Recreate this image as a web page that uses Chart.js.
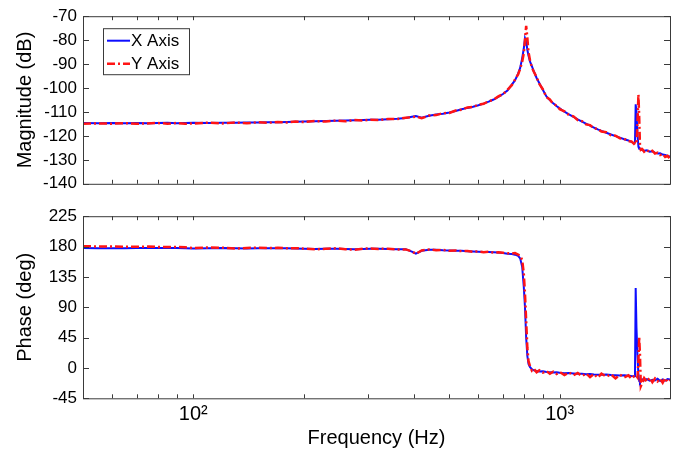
<!DOCTYPE html>
<html>
<head>
<meta charset="utf-8">
<script src="https://cdn.jsdelivr.net/npm/chart.js@4.4.0/dist/chart.umd.min.js"></script>
<style>
    html, body { margin: 0; padding: 0; background: #fff; }
    #wrap { position: relative; width: 681px; height: 452px; }
    #magBox { position: absolute; left: 0; top: 0; width: 681px; height: 200px; }
    #phaseBox { position: absolute; left: 0; top: 200px; width: 681px; height: 252px; }
</style>
</head>
<body>
<div id="wrap">
    <div id="magBox"><canvas id="magChart"></canvas></div>
    <div id="phaseBox"><canvas id="phaseChart"></canvas></div>
</div>
<script>
// frequency points (Hz)
const freqs = [
    50, 55, 60, 65, 70, 75, 80, 85, 90, 95,
    100, 110, 120, 130, 140, 150, 160, 170, 180, 190,
    200, 215, 230, 245, 260, 275, 290, 305, 320, 340,
    360, 380, 395, 405, 420, 440, 460, 480, 500, 520,
    540, 560, 580, 600, 620, 640, 660, 680, 700, 720,
    740, 755, 770, 780, 790, 798, 804, 810, 816, 822,
    830, 840, 850, 865, 880, 900, 920, 940, 960, 980,
    1000, 1030, 1060, 1090, 1120, 1150, 1180, 1210, 1240, 1270,
    1300, 1340, 1380, 1420, 1460, 1500, 1540, 1570, 1595, 1605,
    1612, 1620, 1630, 1640, 1648, 1656, 1665, 1680, 1700, 1730,
    1760, 1790, 1820, 1850, 1880, 1910, 1940, 1970, 2000
];

// magnitude (dB)
const magX = [
    -114.6, -114.7, -114.6, -114.7, -114.6, -114.7, -114.6, -114.5, -114.7, -114.6,
    -114.5, -114.6, -114.5, -114.5, -114.4, -114.4, -114.3, -114.3, -114.2, -114.1,
    -114.0, -113.9, -113.8, -113.7, -113.6, -113.5, -113.4, -113.3, -113.2, -113.0,
    -112.8, -112.5, -112.0, -111.7, -112.4, -111.6, -111.1, -110.7, -110.2, -109.6,
    -108.9, -108.3, -107.8, -107.2, -106.5, -105.7, -104.8, -103.7, -102.5, -101.0,
    -98.6, -96.8, -94.0, -91.6, -87.5, -83.5, -79.2, -80.5, -84.0, -86.5,
    -89.0, -91.0, -93.0, -95.8, -98.0, -100.8, -103.5, -105.0, -106.4, -107.5,
    -108.5, -109.9, -111.0, -112.0, -113.1, -114.0, -114.9, -115.7, -116.5, -117.3,
    -117.9, -118.7, -119.4, -120.1, -120.7, -121.4, -121.9, -122.5, -123.0, -122.8,
    -106.8, -110.0, -119.0, -124.5, -125.4, -125.2, -125.6, -125.9, -126.2, -126.0,
    -126.6, -126.4, -127.0, -127.3, -127.2, -127.8, -128.0, -128.4, -128.6
];
const magY = [
    -114.9, -114.8, -114.9, -114.7, -114.9, -114.8, -114.6, -114.9, -114.6, -114.9,
    -114.8, -114.5, -114.8, -114.4, -114.7, -114.3, -114.5, -114.2, -114.4, -114.0,
    -114.2, -113.8, -114.0, -113.6, -113.9, -113.4, -113.6, -113.2, -113.4, -112.9,
    -113.0, -112.4, -112.2, -111.9, -112.6, -111.5, -111.3, -110.5, -110.4, -109.4,
    -109.1, -108.1, -107.9, -107.0, -106.6, -105.5, -104.9, -103.5, -102.6, -100.8,
    -98.8, -96.5, -94.3, -92.0, -89.0, -85.5, -80.0, -74.0, -79.0, -85.0,
    -88.5, -91.5, -93.2, -95.5, -98.3, -100.6, -103.8, -104.8, -106.7, -107.3,
    -108.8, -109.7, -111.3, -111.8, -113.4, -113.8, -115.2, -115.5, -116.8, -117.1,
    -118.2, -118.5, -119.7, -119.9, -121.0, -121.2, -122.2, -122.3, -123.3, -123.0,
    -123.4, -123.0, -115.0, -102.7, -112.0, -124.0, -125.8, -125.5, -126.6, -125.8,
    -126.9, -126.2, -127.4, -127.0, -128.0, -127.5, -128.8, -128.3, -129.6
];

// phase (deg)
const phaseX = [
    177.9, 177.6, 177.4, 177.6, 177.8, 177.7, 177.9, 178.0, 177.8, 177.5,
    177.2, 177.6, 177.8, 177.5, 177.2, 177.6, 177.3, 177.5, 177.4, 177.1,
    176.7, 176.2, 176.6, 176.8, 176.3, 175.9, 176.4, 176.8, 176.9, 176.5,
    176.1, 175.9, 172.5, 169.5, 173.8, 175.4, 175.2, 174.4, 174.0, 173.6,
    173.7, 173.1, 172.7, 172.4, 172.1, 171.8, 171.4, 171.0, 170.4, 169.3,
    168.9, 168.0, 166.2, 162.5, 150.0, 120.0, 90.0, 45.0, 18.0, 6.0,
    1.0, -2.0, -3.5, -4.5, -5.2, -5.0, -6.0, -6.3, -6.8, -6.5,
    -7.2, -7.8, -7.6, -8.2, -8.7, -8.5, -9.2, -9.0, -9.6, -9.9,
    -10.1, -9.8, -10.6, -10.9, -11.2, -11.0, -11.6, -12.0, -12.2, -12.0,
    118.5, 60.0, 20.0, -10.0, -19.5, -21.0, -18.0, -17.0, -18.5, -16.5,
    -19.0, -17.5, -18.5, -16.0, -19.5, -17.0, -18.8, -16.5, -17.2
];
const phaseY = [
    180.4, 180.2, 180.0, 179.8, 179.6, 179.9, 179.5, 179.2, 179.4, 178.8,
    177.8, 178.6, 178.3, 177.0, 177.9, 178.4, 177.8, 178.1, 177.5, 177.6,
    176.9, 175.9, 176.8, 177.4, 176.0, 175.3, 176.9, 177.2, 176.4, 176.9,
    175.7, 175.8, 172.8, 169.2, 174.2, 175.7, 174.6, 175.0, 173.6, 174.1,
    173.2, 173.5, 172.3, 172.8, 171.6, 172.2, 171.0, 171.5, 170.8, 170.2,
    169.7, 170.4, 168.0, 166.5, 160.0, 140.0, 110.0, 70.0, 30.0, 10.0,
    2.5, -4.0, -1.5, -6.5, -3.5, -7.0, -4.5, -8.5, -5.5, -9.0,
    -6.0, -10.5, -6.5, -11.0, -7.5, -12.0, -8.0, -13.5, -9.0, -14.5,
    -8.5, -13.0, -9.5, -15.5, -10.0, -14.0, -11.0, -16.0, -12.5, -14.0,
    -13.0, -12.0, -14.0, 10.0, 46.0, 20.0, -27.0, -22.0, -15.0, -20.5,
    -14.5, -21.0, -15.5, -20.0, -16.0, -22.0, -15.0, -21.0, -18.0
];

// axis ticks
const freqTicks = [60, 70, 80, 90, 100, 200, 300, 400, 500, 600, 700, 800, 900, 1000, 2000];
const freqLabels = { 100: '10²', 1000: '10³' };
const magTicks = [-140, -130, -120, -110, -100, -90, -80, -70];
const phaseTicks = [-45, 0, 45, 90, 135, 180, 225];

const seriesNames = ['X Axis', 'Y Axis'];
const blue = '#0d0dff';
const red = '#ff1414';
const font = "'Liberation Sans', Arial, Helvetica, sans-serif";

Chart.defaults.font.family = font;
Chart.defaults.color = '#000';

// box around the plot area with MATLAB style inward ticks
const frameTicks = {
    id: 'frameTicks',
    afterDatasetsDraw(chart) {
        const { ctx, chartArea: a, scales } = chart;
        ctx.save();
        ctx.strokeStyle = '#3a3a3a';
        ctx.lineWidth = 1;
        ctx.strokeRect(a.left + 0.5, a.top + 0.5, a.right - a.left, a.bottom - a.top);
        ctx.beginPath();
        scales.x.ticks.forEach(t => {
            const px = Math.round(scales.x.getPixelForValue(t.value)) + 0.5;
            ctx.moveTo(px, a.bottom); ctx.lineTo(px, a.bottom - 4);
            ctx.moveTo(px, a.top); ctx.lineTo(px, a.top + 4);
        });
        scales.y.ticks.forEach(t => {
            const py = Math.round(scales.y.getPixelForValue(t.value)) + 0.5;
            ctx.moveTo(a.left, py); ctx.lineTo(a.left + 6, py);
            ctx.moveTo(a.right, py); ctx.lineTo(a.right - 6, py);
        });
        ctx.stroke();
        ctx.restore();
    }
};

// legend drawn inside the plot with a box
const boxLegend = {
    id: 'boxLegend',
    afterDraw(chart) {
        const { ctx, chartArea: a } = chart;
        const x0 = a.left + 20, y0 = a.top + 12;
        ctx.save();
        ctx.fillStyle = '#fff';
        ctx.fillRect(x0, y0, 86, 46);
        ctx.strokeStyle = '#3a3a3a';
        ctx.lineWidth = 1;
        ctx.strokeRect(x0 + 0.5, y0 + 0.5, 86, 46);
        ctx.font = '17px ' + font;
        ctx.textBaseline = 'middle';
        chart.data.datasets.slice().sort((p, q) => p.legendIndex - q.legendIndex).forEach((ds, i) => {
            const y = y0 + 12.5 + i * 23;
            ctx.strokeStyle = ds.borderColor;
            ctx.lineWidth = ds.borderWidth;
            ctx.setLineDash(ds.borderDash || []);
            ctx.beginPath();
            ctx.moveTo(x0 + 4, y);
            ctx.lineTo(x0 + 27, y);
            ctx.stroke();
            ctx.setLineDash([]);
            ctx.fillStyle = '#000';
            ctx.fillText(ds.label, x0 + 28, y + 1);
        });
        ctx.restore();
    }
};

function makeDatasets(xVals, yVals) {
    return [
        {
            label: seriesNames[1],
            data: freqs.map((f, i) => ({ x: f, y: yVals[i] })),
            borderColor: red,
            borderWidth: 2.5,
            borderDash: [8, 3, 2, 3],
            pointRadius: 0,
            tension: 0,
            order: 1,
            legendIndex: 1
        },
        {
            label: seriesNames[0],
            data: freqs.map((f, i) => ({ x: f, y: xVals[i] })),
            borderColor: blue,
            borderWidth: 2,
            pointRadius: 0,
            tension: 0,
            order: 2,
            legendIndex: 0
        }
    ];
}

function freqAxis(showLabels) {
    return {
        type: 'logarithmic',
        min: 50,
        max: 2000,
        grid: { display: false, drawTicks: false },
        border: { display: false },
        afterBuildTicks: scale => { scale.ticks = freqTicks.map(v => ({ value: v })); },
        ticks: {
            display: showLabels,
            autoSkip: false,
            maxRotation: 0,
            padding: 4,
            font: { size: 20 },
            callback: v => freqLabels[v] || ''
        },
        title: {
            display: showLabels,
            text: 'Frequency (Hz)',
            font: { size: 20 },
            padding: { top: 0, bottom: 2 }
        },
        afterFit: scale => { scale.height = showLabels ? 53.7 : 0; }
    };
}

function valueAxis(tickVals, title) {
    return {
        min: tickVals[0],
        max: tickVals[tickVals.length - 1],
        grid: { display: false, drawTicks: false },
        border: { display: false },
        afterBuildTicks: scale => { scale.ticks = tickVals.map(v => ({ value: v })); },
        ticks: { padding: 6, font: { size: 17 } },
        title: {
            display: true,
            text: title,
            font: { size: 20 },
            padding: { top: 13, bottom: 0 }
        },
        afterFit: scale => { scale.width = 83; }
    };
}

new Chart(document.getElementById('magChart'), {
    type: 'line',
    data: { datasets: makeDatasets(magX, magY) },
    options: {
        responsive: true,
        maintainAspectRatio: false,
        animation: false,
        layout: { padding: { top: 14, right: 11, bottom: 12.7, left: 0 } },
        plugins: { legend: { display: false }, tooltip: { enabled: false } },
        scales: {
            x: freqAxis(false),
            y: valueAxis(magTicks, 'Magnitude (dB)')
        }
    },
    plugins: [frameTicks, boxLegend]
});

new Chart(document.getElementById('phaseChart'), {
    type: 'line',
    data: { datasets: makeDatasets(phaseX, phaseY) },
    options: {
        responsive: true,
        maintainAspectRatio: false,
        animation: false,
        layout: { padding: { top: 15, right: 11, bottom: 0, left: 0 } },
        plugins: { legend: { display: false }, tooltip: { enabled: false } },
        scales: {
            x: freqAxis(true),
            y: valueAxis(phaseTicks, 'Phase (deg)')
        }
    },
    plugins: [frameTicks]
});
</script>
</body>
</html>
